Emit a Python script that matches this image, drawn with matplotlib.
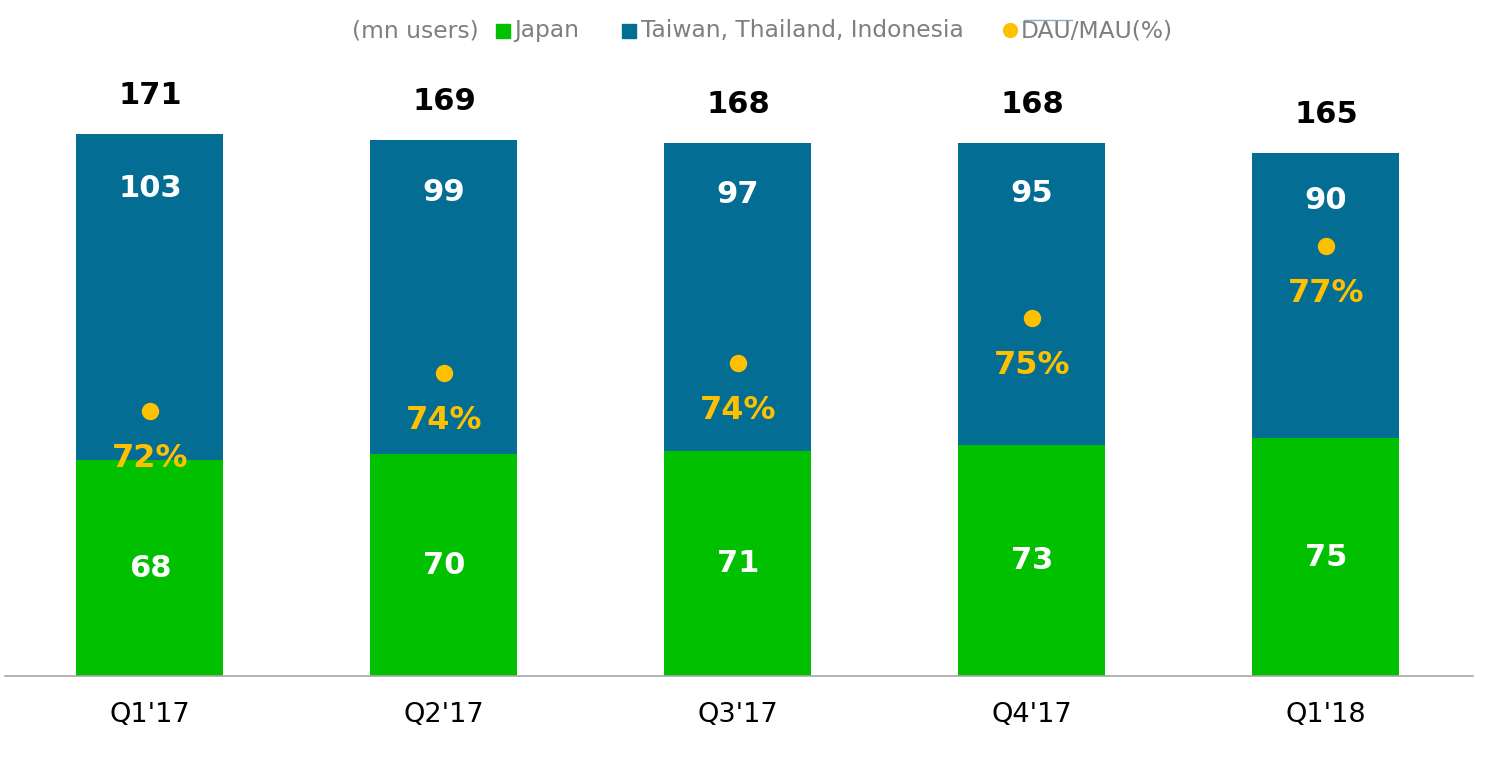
import matplotlib
matplotlib.use("Agg")
import matplotlib.pyplot as plt
from matplotlib.patches import Rectangle
from matplotlib.lines import Line2D

categories = ["Q1'17", "Q2'17", "Q3'17", "Q4'17", "Q1'18"]
japan = [68, 70, 71, 73, 75]
others = [103, 99, 97, 95, 90]
totals = [171, 169, 168, 168, 165]
dau_mau = [72.4, 73.5, 73.8, 75.1, 77.2]
dau_mau_labels = ["72%", "74%", "74%", "75%", "77%"]

GREEN = "#00C000"
BLUE = "#036D94"
GOLD = "#FFC000"
GRAY = "#7F7F7F"

plt.rcParams['font.family'] = ['DejaVu Sans']

W, H = 1487, 757
fig = plt.figure(figsize=(W / 100, H / 100), dpi=100)
left_px, right_px, bottom_px, top_px = 5, 1473, 676, 80
ax = fig.add_axes([left_px / W, (H - bottom_px) / H, (right_px - left_px) / W, (bottom_px - top_px) / H])
x = list(range(len(categories)))
width = 0.5
ax.bar(x, japan, width, color=GREEN, zorder=2)
ax.bar(x, others, width, bottom=japan, color=BLUE, zorder=2)
ax.set_xlim(-0.493, 4.5)
ax.set_ylim(0, (bottom_px - top_px) / 3.17)

for s in ["top", "right", "left"]:
    ax.spines[s].set_visible(False)
ax.spines["bottom"].set_color("#A6A6A6")
ax.spines["bottom"].set_linewidth(1.2)
ax.set_yticks([])
ax.set_xticks(x)
ax.set_xticklabels(categories, fontsize=19.5, color="black")
ax.tick_params(axis="x", length=0, pad=19)

for i in x:
    ax.text(i, japan[i] / 2, str(japan[i]), ha="center", va="center",
            color="white", fontsize=22, fontweight="bold", zorder=4)
    ax.text(i, totals[i] - others[i] / 6, str(others[i]), ha="center", va="center",
            color="white", fontsize=22, fontweight="bold", zorder=4)
    ax.annotate(str(totals[i]), (i, totals[i]), xytext=(0, 28), textcoords="offset points",
                ha="center", va="center", color="black", fontsize=22, fontweight="bold")

ax2 = ax.twinx()
ax2.set_ylim(64.67, 82.05)
ax2.set_axis_off()
ax2.plot(x, dau_mau, linestyle="none", marker="o", ms=11.5, color=GOLD, zorder=5)
for i in x:
    ax2.annotate(dau_mau_labels[i], (i, dau_mau[i]), xytext=(0, -34), textcoords="offset points",
                 ha="center", va="center", color=GOLD, fontsize=23, fontweight="bold", zorder=6)

# legend (manual)
def fx(px):
    return px / W

def fy(py):
    return 1 - py / H

LFS = 16.8
fig.text(fx(352), fy(31), "(mn users)", ha="left", va="center", fontsize=LFS, color=GRAY)
fig.patches.append(Rectangle((fx(496), fy(38)), 14 / W, 14 / H, transform=fig.transFigure,
                             color=GREEN, figure=fig))
fig.text(fx(514), fy(31), "Japan", ha="left", va="center", fontsize=LFS, color=GRAY)
fig.patches.append(Rectangle((fx(622), fy(38)), 14 / W, 14 / H, transform=fig.transFigure,
                             color=BLUE, figure=fig))
fig.text(fx(641), fy(31), "Taiwan, Thailand, Indonesia", ha="left", va="center", fontsize=LFS, color=GRAY)
fig.lines.append(Line2D([fx(1010)], [fy(30)], marker="o", ms=10, color=GOLD,
                        transform=fig.transFigure, figure=fig))
fig.lines.append(Line2D([fx(1024), fx(1072)], [fy(20), fy(20)], color="#8FA9C0", lw=1,
                        transform=fig.transFigure, figure=fig))
fig.text(fx(1021), fy(31), "DAU/MAU(%)", ha="left", va="center", fontsize=LFS, color=GRAY)

fig.savefig("out.png", dpi=100)
